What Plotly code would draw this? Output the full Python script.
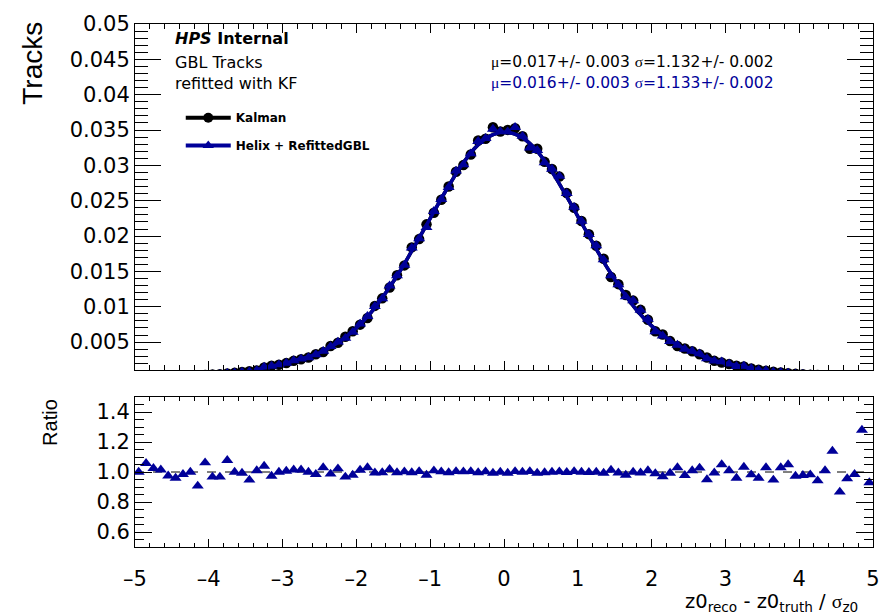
import plotly.graph_objects as go

# ---------------- data ----------------
n_bins = 100
x_low, bin_width = -5.0, 0.1
bin_centers = [round(x_low + bin_width * (i + 0.5), 3) for i in range(n_bins)]

kalman = [
    0.00012, 0.00013, 0.00015, 0.00016, 0.00018, 0.00020, 0.00023, 0.00026, 0.00030, 0.00034,
    0.00040, 0.00047, 0.00055, 0.00065, 0.00076, 0.00088, 0.00098, 0.00142, 0.00165, 0.00180,
    0.00203, 0.00235, 0.00258, 0.00282, 0.00328, 0.00361, 0.00445, 0.00491, 0.00575, 0.00654,
    0.00747, 0.00840, 0.01012, 0.01119, 0.01273, 0.01445, 0.01585, 0.01840, 0.01957, 0.02166,
    0.02329, 0.02515, 0.02701, 0.02910, 0.03004, 0.03153, 0.03353, 0.03376, 0.03539, 0.03480,
    0.03502, 0.03525, 0.03413, 0.03236, 0.03236, 0.03050, 0.02948, 0.02841, 0.02608, 0.02399,
    0.02213, 0.02027, 0.01864, 0.01678, 0.01422, 0.01320, 0.01166, 0.01087, 0.00956, 0.00817,
    0.00654, 0.00607, 0.00514, 0.00445, 0.00410, 0.00370, 0.00328, 0.00282, 0.00235, 0.00212,
    0.00189, 0.00165, 0.00156, 0.00128, 0.00110, 0.00095, 0.00082, 0.00070, 0.00060, 0.00052,
    0.00045, 0.00039, 0.00033, 0.00028, 0.00024, 0.00020, 0.00017, 0.00015, 0.00013, 0.00011]

helix = [
    0.000120, 0.000138, 0.000154, 0.000162, 0.000176, 0.000192, 0.000227, 0.000260, 0.000272, 0.000361,
    0.000387, 0.000454, 0.000593, 0.000650, 0.000755, 0.000833, 0.00099, 0.00148, 0.00161, 0.00180,
    0.00204, 0.00239, 0.00262, 0.00282, 0.00323, 0.00372, 0.00439, 0.00502, 0.00556, 0.00641,
    0.00757, 0.00865, 0.01007, 0.01115, 0.01296, 0.01439, 0.01588, 0.01833, 0.01965, 0.02123,
    0.02350, 0.02520, 0.02690, 0.02922, 0.03010, 0.03166, 0.03340, 0.03383, 0.03514, 0.03480,
    0.03477, 0.03539, 0.03413, 0.03249, 0.03213, 0.03038, 0.02948, 0.02847, 0.02603, 0.02409,
    0.02213, 0.02023, 0.01864, 0.01666, 0.01440, 0.01313, 0.01143, 0.01087, 0.00951, 0.00825,
    0.00647, 0.00589, 0.00510, 0.00458, 0.00401, 0.00374, 0.00337, 0.00268, 0.00234, 0.00223,
    0.00191, 0.00158, 0.00161, 0.00126, 0.00106, 0.000979, 0.000777, 0.000721, 0.000630, 0.000506,
    0.000440, 0.000383, 0.000311, 0.000283, 0.000274, 0.000173, 0.000163, 0.000148, 0.000166, 0.000102]

ratio = [
    1.000, 1.058, 1.025, 1.015, 0.975, 0.960, 0.985, 1.000, 0.907, 1.062,
    0.967, 0.967, 1.078, 1.000, 0.993, 0.947, 1.010, 1.040, 0.973, 1.000,
    1.006, 1.015, 1.015, 1.000, 0.985, 1.030, 0.987, 1.022, 0.967, 0.980,
    1.013, 1.030, 0.995, 0.996, 1.018, 0.996, 1.002, 0.996, 1.004, 0.980,
    1.009, 1.002, 0.996, 1.004, 1.002, 1.004, 0.996, 1.002, 0.993, 1.000,
    0.993, 1.004, 1.000, 1.004, 0.993, 0.996, 1.000, 1.002, 0.998, 1.004,
    1.000, 0.998, 1.000, 0.993, 1.013, 0.995, 0.980, 1.000, 0.995, 1.010,
    0.990, 0.970, 0.993, 1.030, 0.978, 1.010, 1.027, 0.950, 0.995, 1.050,
    1.010, 0.960, 1.033, 0.982, 0.960, 1.030, 0.947, 1.030, 1.050, 0.973,
    0.978, 0.982, 0.942, 1.010, 1.140, 0.867, 0.956, 0.985, 1.280, 0.930]

fit_x = [-3.4, -3.2, -3.0, -2.8, -2.6, -2.4, -2.2, -2.0, -1.8, -1.6, -1.4, -1.2, -1.0,
         -0.8, -0.6, -0.4, -0.2, 0.0, 0.2, 0.4, 0.6, 0.8, 1.0, 1.2, 1.4, 1.6, 1.8,
         2.0, 2.2, 2.4, 2.6, 2.8, 3.0, 3.2, 3.4, 3.5]
fit_y = [0.00095, 0.0015, 0.0019, 0.0025, 0.0031, 0.0040, 0.0053, 0.0070, 0.0092, 0.0120,
         0.0152, 0.0188, 0.0225, 0.0262, 0.0296, 0.0324, 0.0341, 0.0347, 0.0342, 0.0326,
         0.0299, 0.0265, 0.0228, 0.0191, 0.0155, 0.0123, 0.0095, 0.0073, 0.0056, 0.0043,
         0.0034, 0.0026, 0.0020, 0.0016, 0.0012, 0.0010]

y_ticks_top = [0.005, 0.01, 0.015, 0.02, 0.025, 0.03, 0.035, 0.04, 0.045, 0.05]
y_ticks_ratio = [0.6, 0.8, 1.0, 1.2, 1.4]
x_ticks = [-5, -4, -3, -2, -1, 0, 1, 2, 3, 4, 5]

BLUE = "#000099"
FONT = "DejaVu Sans"

# ---------------- figure ----------------
fig = go.Figure()

fig.add_trace(go.Scatter(x=fit_x, y=fit_y, mode="lines", line=dict(color="black", width=3.5, shape="spline"),
                         showlegend=False, xaxis="x", yaxis="y"))
fig.add_trace(go.Scatter(x=bin_centers, y=kalman, mode="markers",
                         marker=dict(symbol="circle", size=10.5, color="black"),
                         showlegend=False, xaxis="x", yaxis="y"))
fig.add_trace(go.Scatter(x=fit_x, y=fit_y, mode="lines", line=dict(color=BLUE, width=3.5, shape="spline"),
                         showlegend=False, xaxis="x", yaxis="y"))
fig.add_trace(go.Scatter(x=bin_centers, y=helix, mode="markers",
                         marker=dict(symbol="triangle-up", size=10.5, color=BLUE),
                         showlegend=False, xaxis="x", yaxis="y"))

# ratio
fig.add_trace(go.Scatter(x=bin_centers, y=ratio, mode="markers",
                         marker=dict(symbol="triangle-up", size=10.5, color=BLUE),
                         showlegend=False, xaxis="x2", yaxis="y2"))

# legend entries
fig.add_trace(go.Scatter(x=[None], y=[None], mode="lines+markers", name="Kalman",
                         line=dict(color="black", width=4),
                         marker=dict(symbol="circle", size=10, color="black"),
                         legend="legend"))
fig.add_trace(go.Scatter(x=[None], y=[None], mode="lines+markers", name="Helix + RefittedGBL",
                         line=dict(color=BLUE, width=4),
                         marker=dict(symbol="triangle-up", size=10, color=BLUE),
                         legend="legend2"))

fig.add_shape(type="line", xref="x2 domain", yref="y2", x0=0, x1=1, y0=1, y1=1,
              line=dict(color="black", width=1, dash="dash"), layer="below")

axis_common = dict(showline=True, linecolor="black", linewidth=1, mirror="allticks",
                   ticks="inside", tickcolor="black", showgrid=False, zeroline=False)

fig.update_layout(
    width=892, height=614,
    margin=dict(l=135, r=17, t=17, b=67),
    paper_bgcolor="white", plot_bgcolor="white",
    font=dict(family=FONT, color="black"),
    xaxis=dict(**axis_common, domain=[0, 1], anchor="y", range=[-5, 5],
               tickvals=x_ticks, showticklabels=False, ticklen=9, tickwidth=1,
               minor=dict(dtick=0.2, ticks="inside", ticklen=5, tickcolor="black")),
    yaxis=dict(**axis_common, domain=[0.3377, 1], anchor="x", range=[0.001, 0.05],
               tickvals=y_ticks_top, ticktext=[f"{v:g}" for v in y_ticks_top],
               ticklen=26, tickwidth=1,
               tickfont=dict(size=21, family=FONT),
               minor=dict(dtick=0.001, tick0=0, ticks="inside", ticklen=13, tickcolor="black")),
    xaxis2=dict(**axis_common, domain=[0, 1], anchor="y2", range=[-5, 5], matches="x",
                tickvals=x_ticks, ticktext=[str(v).replace("-", "\u2013") for v in x_ticks],
                ticklen=8, tickwidth=1, tickfont=dict(size=21, family=FONT),
                ticklabelstandoff=13,
                minor=dict(dtick=0.2, ticks="inside", ticklen=4, tickcolor="black")),
    yaxis2=dict(**axis_common, domain=[0, 0.2868], anchor="x2", range=[0.5, 1.5],
                tickvals=y_ticks_ratio, ticktext=[f"{v:.1f}" for v in y_ticks_ratio],
                ticklen=17, tickwidth=1, tickfont=dict(size=21, family=FONT),
                minor=dict(dtick=0.05, tick0=0, ticks="inside", ticklen=9, tickcolor="black")),
    legend=dict(x=0.062, y=0.8208, xanchor="left", yanchor="middle", bgcolor="rgba(0,0,0,0)",
                font=dict(family=FONT, size=12, weight="bold"), itemwidth=45),
    legend2=dict(x=0.062, y=0.7679, xanchor="left", yanchor="middle", bgcolor="rgba(0,0,0,0)",
                 font=dict(family=FONT, size=12, weight="bold"), itemwidth=45),
)

def px2paper(px, py):
    return (px - 135) / 740.0, (547 - py) / 530.0

annots = [
    dict(pos=(173, 32), text="<b><i>HPS</i> Internal</b>", size=16, color="black", anchor="left"),
    dict(pos=(173, 56), text="GBL Tracks", size=16, color="black", anchor="left"),
    dict(pos=(173, 77), text="refitted with KF", size=16, color="black", anchor="left"),
    dict(pos=(490, 56), text="<span style='font-family:Liberation Serif'>\u03bc</span>=0.017+/- 0.003 "
                             "<span style='font-family:Liberation Serif'>\u03c3</span>=1.132+/- 0.002",
         size=15.5, color="black", anchor="left"),
    dict(pos=(490, 77), text="<span style='font-family:Liberation Serif'>\u03bc</span>=0.016+/- 0.003 "
                             "<span style='font-family:Liberation Serif'>\u03c3</span>=1.133+/- 0.002",
         size=15.5, color=BLUE, anchor="left"),
]
for a in annots:
    xp, yp = px2paper(*a["pos"])
    fig.add_annotation(xref="paper", yref="paper", x=xp, y=yp, text=a["text"], showarrow=False,
                       xanchor=a["anchor"], yanchor="middle",
                       font=dict(family=FONT, size=a["size"], color=a["color"]))

xp, yp = px2paper(32, 57)
fig.add_annotation(xref="paper", yref="paper", x=xp, y=yp, text="Tracks", textangle=-90, showarrow=False,
                   xanchor="center", yanchor="middle", font=dict(family="Liberation Sans", size=28, color="black"))
xp, yp = px2paper(49, 421)
fig.add_annotation(xref="paper", yref="paper", x=xp, y=yp, text="Ratio", textangle=-90, showarrow=False,
                   xanchor="center", yanchor="middle", font=dict(family="Liberation Sans", size=20, color="black"))
xp, yp = px2paper(862, 589)
fig.add_annotation(xref="paper", yref="paper", x=xp, y=yp,
                   text="z0<sub>reco</sub> - z0<sub>truth</sub> / <span style='font-family:Liberation Serif'>\u03c3</span><sub>z0</sub>",
                   showarrow=False, xanchor="right", yanchor="top",
                   font=dict(family=FONT, size=19.5, color="black"))

fig.write_html("out.html", config={"displayModeBar": False},
               post_script="document.body.style.margin='0';document.body.style.overflow='hidden';")
